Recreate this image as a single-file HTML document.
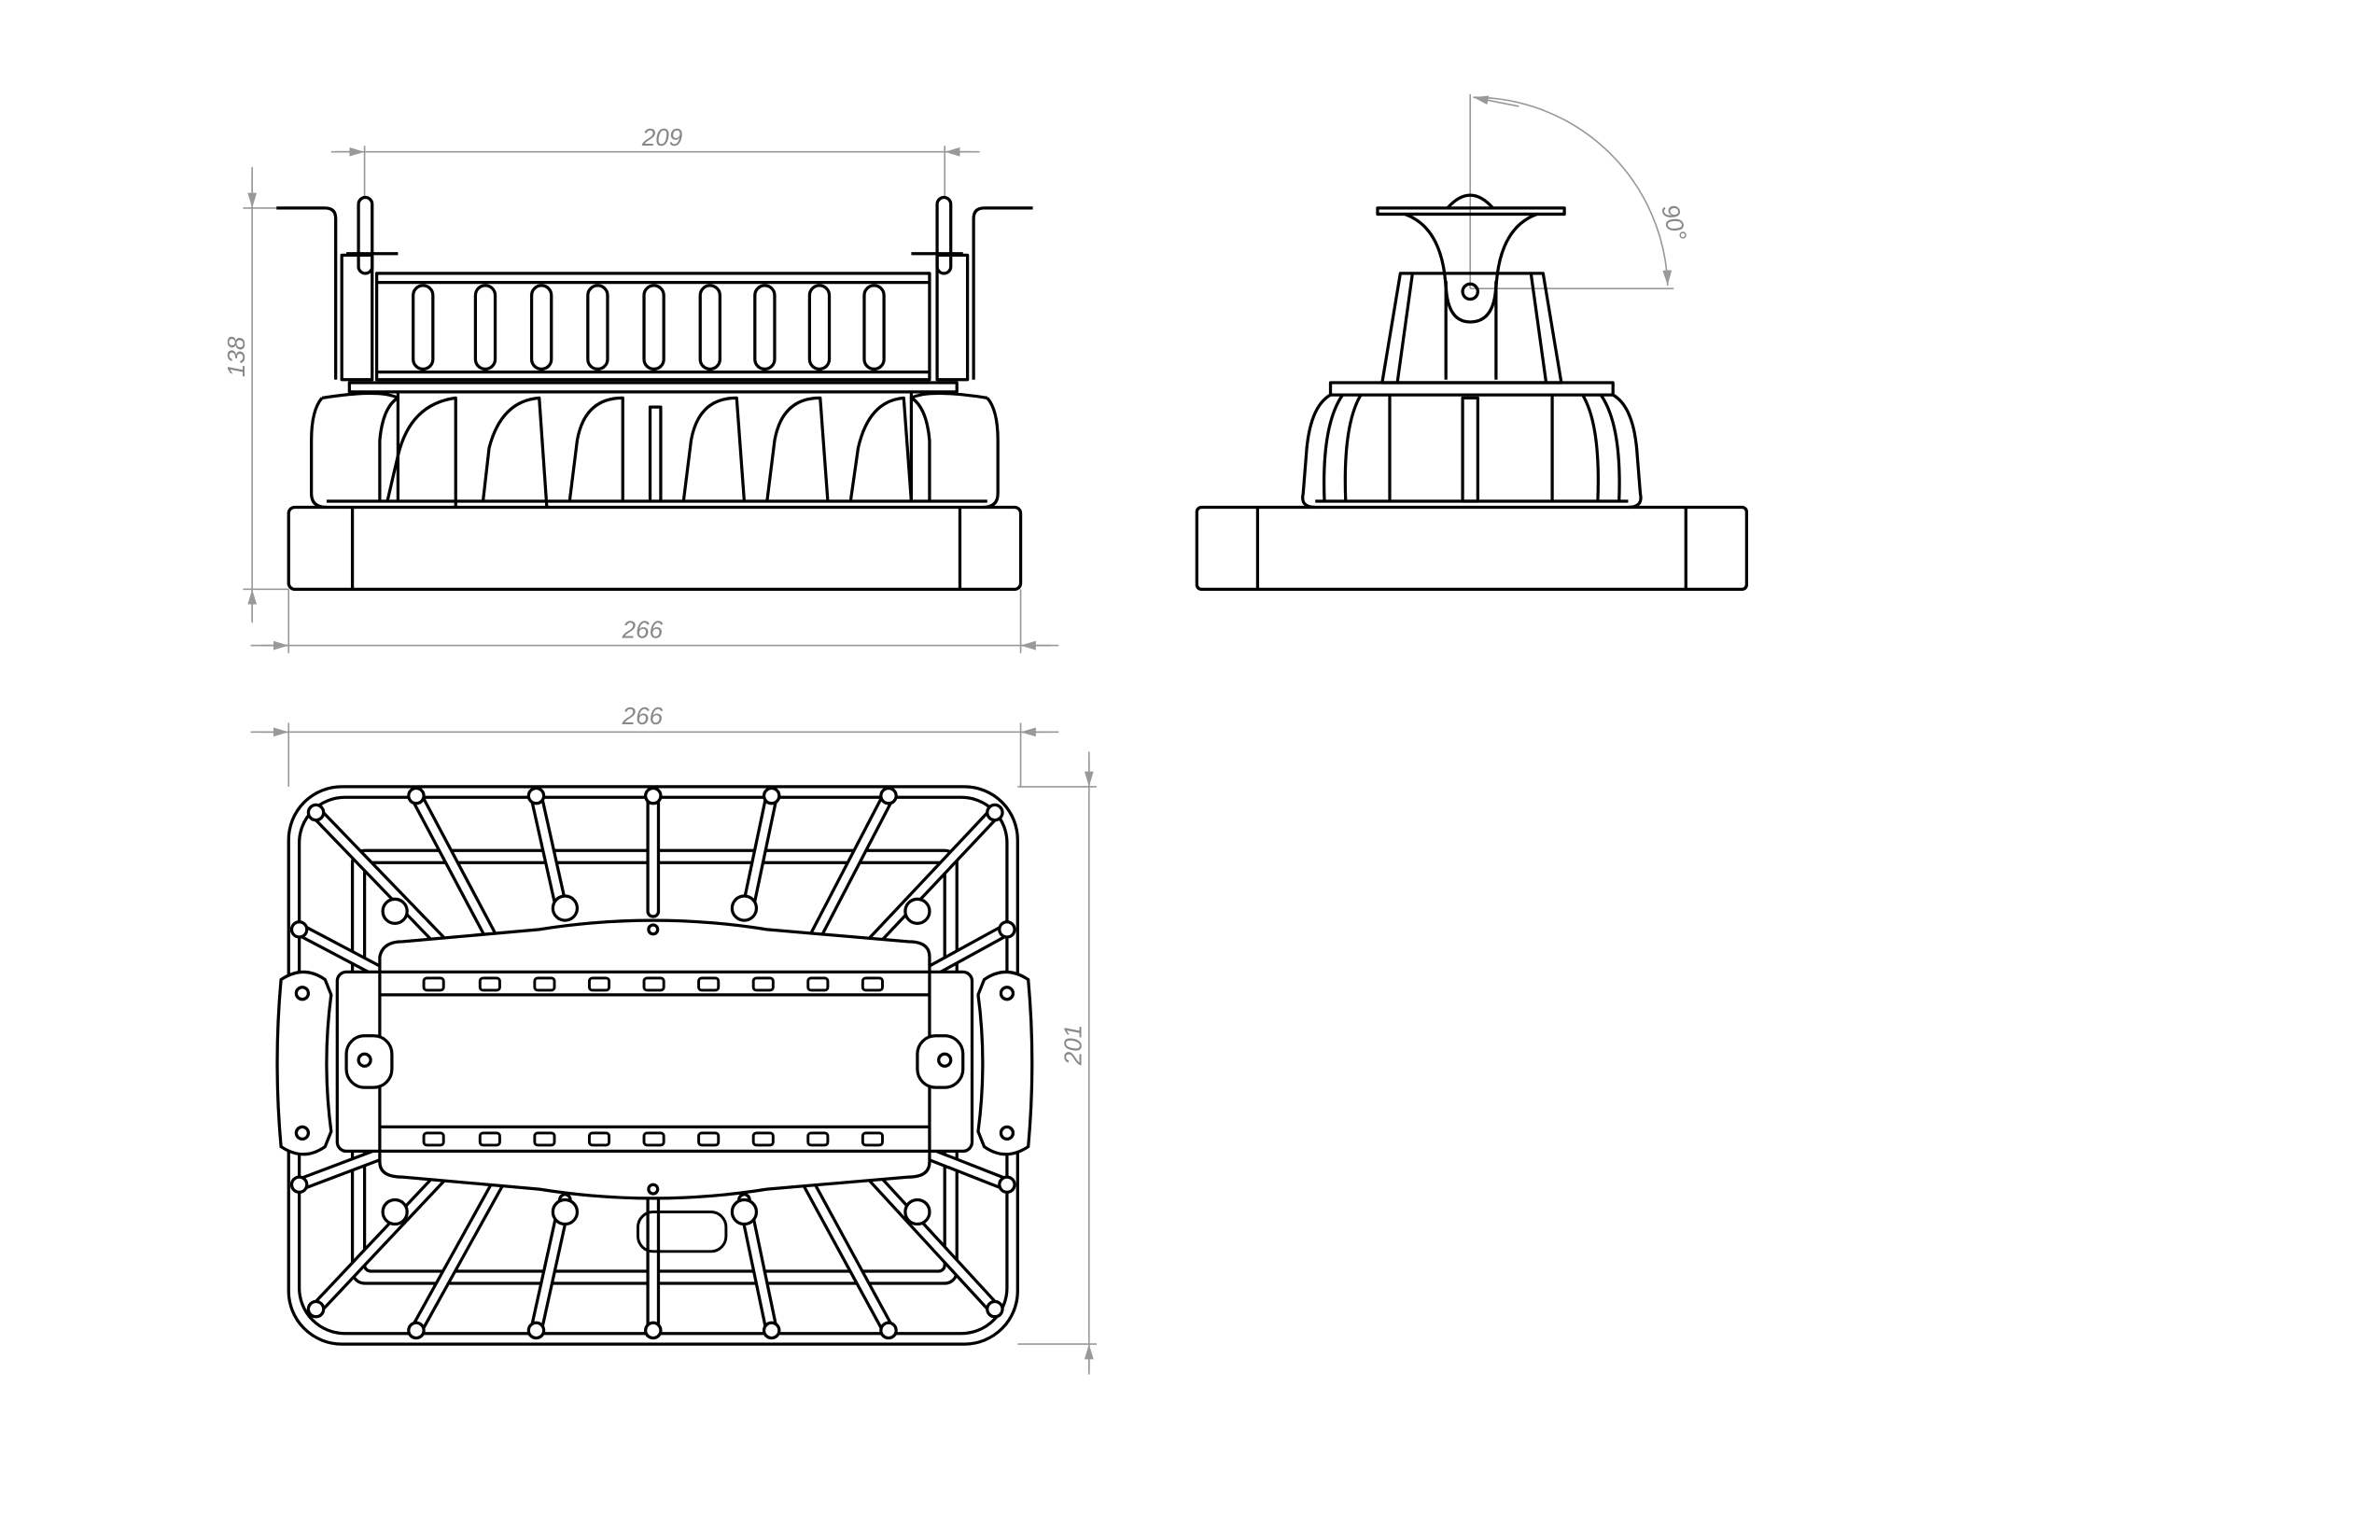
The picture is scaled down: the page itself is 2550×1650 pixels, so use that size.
<!DOCTYPE html>
<html><head><meta charset="utf-8"><style>
html,body{margin:0;padding:0;background:#fff;}
svg{display:block;}
text{font-family:"Liberation Sans",sans-serif;font-style:italic;fill:#888;font-size:16px;}
</style></head><body>
<svg width="2550" height="1650" viewBox="0 0 1567 1014" xmlns="http://www.w3.org/2000/svg">
<defs>
<marker id="ar" viewBox="0 0 10 6" refX="10" refY="3" markerWidth="10" markerHeight="6" orient="auto-start-reverse"><path d="M0,0 L10,3 L0,6 z" fill="#999"/></marker>
</defs>
<g stroke="#999" stroke-width="1" fill="none">
<line x1="218" y1="100" x2="645" y2="100"/>
<line x1="240" y1="96" x2="240" y2="130"/><line x1="622" y1="96" x2="622" y2="130"/>
<path d="M222,100 L240,100" marker-end="url(#ar)"/><path d="M640,100 L622,100" marker-end="url(#ar)"/>
<line x1="166" y1="110" x2="166" y2="410"/>
<line x1="160" y1="137" x2="182" y2="137"/><line x1="160" y1="388" x2="190" y2="388"/>
<path d="M166,115 L166,137" marker-end="url(#ar)"/><path d="M166,408 L166,388" marker-end="url(#ar)"/>
<line x1="165" y1="425" x2="697" y2="425"/>
<line x1="190" y1="388" x2="190" y2="430"/><line x1="672" y1="388" x2="672" y2="430"/>
<path d="M172,425 L190,425" marker-end="url(#ar)"/><path d="M692,425 L672,425" marker-end="url(#ar)"/>
<line x1="968" y1="62" x2="968" y2="190"/><line x1="968" y1="190" x2="1102" y2="190"/>
<path d="M970,64 A128,128 0 0 1 1098,188" marker-end="url(#ar)"/>
<path d="M1000,70 L970,64" marker-end="url(#ar)"/>
<line x1="165" y1="482" x2="697" y2="482"/>
<line x1="190" y1="476" x2="190" y2="518"/><line x1="672" y1="476" x2="672" y2="518"/>
<path d="M172,482 L190,482" marker-end="url(#ar)"/><path d="M692,482 L672,482" marker-end="url(#ar)"/>
<line x1="717" y1="495" x2="717" y2="905"/>
<line x1="670" y1="518" x2="722" y2="518"/><line x1="670" y1="885" x2="722" y2="885"/>
<path d="M717,500 L717,518" marker-end="url(#ar)"/><path d="M717,902 L717,885" marker-end="url(#ar)"/>
</g>
<text x="436" y="96" text-anchor="middle">209</text>
<text x="423" y="420" text-anchor="middle">266</text>
<text x="423" y="477" text-anchor="middle">266</text>
<text transform="translate(161,235) rotate(-90)" text-anchor="middle">138</text>
<text transform="translate(712,688) rotate(-90)" text-anchor="middle">201</text>
<text transform="translate(1097,148) rotate(75)" text-anchor="middle">90°</text>

<g stroke="#000" stroke-width="2" fill="none" stroke-linejoin="round">
<rect x="190" y="334" width="482" height="54" rx="4"/>
<line x1="232" y1="334" x2="232" y2="388"/><line x1="632" y1="334" x2="632" y2="388"/>
<path d="M182,137 L214,137 Q221,137 221,144 L221,250"/>
<path d="M680,137 L648,137 Q641,137 641,144 L641,250"/>
<rect x="248" y="180" width="364" height="70"/>
<line x1="248" y1="186" x2="612" y2="186"/><line x1="248" y1="245" x2="612" y2="245"/>
<rect x="225" y="168" width="20" height="82"/><rect x="617" y="168" width="20" height="82"/>
<rect x="236" y="130" width="9" height="50" rx="4.5"/><rect x="617" y="130" width="9" height="50" rx="4.5"/>
<line x1="228" y1="167" x2="262" y2="167"/><line x1="600" y1="167" x2="634" y2="167"/>
<g>
<rect x="272" y="188" width="13" height="55" rx="6.5"/><rect x="313" y="188" width="13" height="55" rx="6.5"/>
<rect x="350" y="188" width="13" height="55" rx="6.5"/><rect x="387" y="188" width="13" height="55" rx="6.5"/>
<rect x="424" y="188" width="13" height="55" rx="6.5"/><rect x="461" y="188" width="13" height="55" rx="6.5"/>
<rect x="497" y="188" width="13" height="55" rx="6.5"/><rect x="533" y="188" width="13" height="55" rx="6.5"/>
<rect x="569" y="188" width="13" height="55" rx="6.5"/>
</g>
<path d="M230,258 L630,258 L630,252 L230,252 Z"/>
<path d="M212,262 Q205,270 205,290 L205,325 Q205,334 215,334"/>
<path d="M650,262 Q657,270 657,290 L657,325 Q657,334 647,334"/>
<path d="M212,262 Q250,256 262,262 Q252,268 250,290 L250,330"/>
<path d="M650,262 Q612,256 600,262 Q610,268 612,290 L612,330"/>
<path d="M255,330 L262,300 Q270,266 300,262 L300,334"/>
<path d="M318,330 L322,295 Q330,264 355,262 L360,334"/>
<path d="M375,330 L380,290 Q385,262 410,262 L410,330"/>
<path d="M428,330 L428,268 L435,268 L435,330"/>
<path d="M450,330 L455,290 Q460,262 485,262 L490,330"/>
<path d="M505,330 L510,290 Q515,262 540,262 L545,330"/>
<path d="M560,330 L565,295 Q572,264 595,262 L600,330"/>
<line x1="215" y1="330" x2="650" y2="330"/>
<line x1="262" y1="258" x2="262" y2="330"/><line x1="600" y1="258" x2="600" y2="330"/>

<rect x="788" y="334" width="362" height="54" rx="3"/>
<line x1="828" y1="334" x2="828" y2="388"/><line x1="1110" y1="334" x2="1110" y2="388"/>
<path d="M907,137 L1030,137 L1030,141 L907,141 Z"/>
<path d="M953,137 Q968,120 983,137"/>
<path d="M925,141 Q950,150 952,190 L952,250 M1012,141 Q987,150 985,190 L985,250"/>
<path d="M952,185 Q952,212 968,212 Q985,212 985,185"/>
<circle cx="968" cy="192" r="5"/>
<path d="M922,180 L910,252 L1028,252 L1016,180 Z"/>
<path d="M930,180 L920,252 M1008,180 L1018,252"/>
<rect x="876" y="252" width="186" height="8"/>
<path d="M876,260 Q862,268 860,300 L858,325 Q856,334 866,334"/>
<path d="M1062,260 Q1076,268 1078,300 L1080,325 Q1082,334 1072,334"/>
<path d="M884,260 Q870,280 872,330 M896,260 Q884,280 886,330"/>
<path d="M1054,260 Q1068,280 1066,330 M1042,260 Q1054,280 1052,330"/>
<line x1="915" y1="260" x2="915" y2="330"/><line x1="1022" y1="260" x2="1022" y2="330"/>
<rect x="963" y="262" width="10" height="68"/>
<line x1="866" y1="330" x2="1072" y2="330"/>

<rect x="190" y="518" width="480" height="367" rx="35"/>
<rect x="197" y="525" width="466" height="353" rx="30"/>
<rect x="232" y="560" width="398" height="285" rx="8"/>
<rect x="240" y="568" width="382" height="269" rx="4"/>
</g>
<g stroke-linecap="round" fill="none">
<g stroke="#000" stroke-width="9">
<path d="M274,524 L325,620 M353,524 L370,600 M430,524 L430,600 M508,524 L492,600 M585,524 L535,620"/>
<path d="M274,876 L330,775 M353,876 L372,790 M430,876 L430,790 M508,876 L490,790 M585,876 L530,775"/>
<path d="M208,535 L290,620 M655,535 L575,620 M208,862 L290,775 M655,862 L575,775"/>
<path d="M197,612 L250,640 M663,612 L612,640 M197,780 L250,760 M663,780 L612,760"/>
</g>
<g stroke="#fff" stroke-width="5">
<path d="M274,524 L325,620 M353,524 L370,600 M430,524 L430,600 M508,524 L492,600 M585,524 L535,620"/>
<path d="M274,876 L330,775 M353,876 L372,790 M430,876 L430,790 M508,876 L490,790 M585,876 L530,775"/>
<path d="M208,535 L290,620 M655,535 L575,620 M208,862 L290,775 M655,862 L575,775"/>
<path d="M197,612 L250,640 M663,612 L612,640 M197,780 L250,760 M663,780 L612,760"/>
</g>
</g>
<g stroke="#000" stroke-width="2" fill="#fff">
<circle cx="274" cy="524" r="5"/><circle cx="353" cy="524" r="5"/><circle cx="430" cy="524" r="5"/><circle cx="508" cy="524" r="5"/><circle cx="585" cy="524" r="5"/>
<circle cx="274" cy="876" r="5"/><circle cx="353" cy="876" r="5"/><circle cx="430" cy="876" r="5"/><circle cx="508" cy="876" r="5"/><circle cx="585" cy="876" r="5"/>
<circle cx="208" cy="535" r="5"/><circle cx="655" cy="535" r="5"/><circle cx="208" cy="862" r="5"/><circle cx="655" cy="862" r="5"/>
<circle cx="197" cy="612" r="5"/><circle cx="663" cy="612" r="5"/><circle cx="197" cy="780" r="5"/><circle cx="663" cy="780" r="5"/>
<circle cx="260" cy="600" r="8"/><circle cx="372" cy="598" r="8"/><circle cx="490" cy="598" r="8"/><circle cx="604" cy="600" r="8"/>
<circle cx="260" cy="798" r="8"/><circle cx="372" cy="798" r="8"/><circle cx="490" cy="798" r="8"/><circle cx="604" cy="798" r="8"/>
<path d="M250,630 Q252,620 265,620 L355,612 Q430,600 505,612 L598,620 Q612,620 612,630 L612,765 Q612,775 598,775 L505,783 Q430,795 355,783 L265,775 Q250,775 250,765 Z"/>
<rect x="222" y="640" width="418" height="118" rx="6"/>
<line x1="250" y1="655" x2="612" y2="655"/><line x1="250" y1="742" x2="612" y2="742"/>
<line x1="250" y1="640" x2="250" y2="758"/><line x1="612" y1="640" x2="612" y2="758"/>
<circle cx="430" cy="612" r="3"/><circle cx="430" cy="783" r="3"/>
<path d="M185,645 Q200,635 214,645 L218,655 Q212,700 218,745 L214,755 Q200,765 185,755 Q180,700 185,645 Z"/>
<path d="M677,645 Q662,635 648,645 L644,655 Q650,700 644,745 L648,755 Q662,765 677,755 Q682,700 677,645 Z"/>
<circle cx="199" cy="654" r="4"/><circle cx="199" cy="746" r="4"/><circle cx="663" cy="654" r="4"/><circle cx="663" cy="746" r="4"/>
<rect x="228" y="682" width="30" height="34" rx="12"/><rect x="604" y="682" width="30" height="34" rx="12"/>
<circle cx="240" cy="698" r="4"/><circle cx="622" cy="698" r="4"/>
</g>
<g stroke="#000" stroke-width="1.8" fill="none">
<rect x="279" y="644" width="13" height="8" rx="2"/><rect x="316" y="644" width="13" height="8" rx="2"/><rect x="352" y="644" width="13" height="8" rx="2"/><rect x="388" y="644" width="13" height="8" rx="2"/><rect x="424" y="644" width="13" height="8" rx="2"/><rect x="460" y="644" width="13" height="8" rx="2"/><rect x="496" y="644" width="13" height="8" rx="2"/><rect x="532" y="644" width="13" height="8" rx="2"/><rect x="568" y="644" width="13" height="8" rx="2"/>
<rect x="279" y="746" width="13" height="8" rx="2"/><rect x="316" y="746" width="13" height="8" rx="2"/><rect x="352" y="746" width="13" height="8" rx="2"/><rect x="388" y="746" width="13" height="8" rx="2"/><rect x="424" y="746" width="13" height="8" rx="2"/><rect x="460" y="746" width="13" height="8" rx="2"/><rect x="496" y="746" width="13" height="8" rx="2"/><rect x="532" y="746" width="13" height="8" rx="2"/><rect x="568" y="746" width="13" height="8" rx="2"/>
<rect x="420" y="798" width="58" height="26" rx="10"/>
</g>
</svg>
</body></html>
